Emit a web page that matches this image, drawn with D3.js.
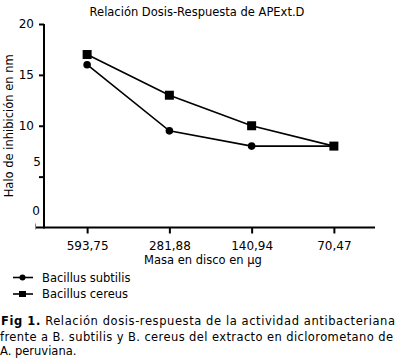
<!DOCTYPE html>
<html><head><meta charset="utf-8">
<script src="https://cdn.jsdelivr.net/npm/d3@7/dist/d3.min.js"></script>
<style>
body{margin:0;background:#fff;}
svg{display:block;font-family:"DejaVu Sans",Verdana,sans-serif;}
</style></head>
<body><svg id="c" width="396" height="362"></svg>
<script>
const categories = ["593,75","281,88","140,94","70,47"];
const subtilis = [16, 9.5, 8, 8];
const cereus = [17, 13, 10, 8];
const yTicks = [0,5,10,15,20];
const seriesNames = ["Bacillus subtilis","Bacillus cereus"];

const svg = d3.select("#c");
const x = d3.scalePoint().domain(categories).range([46,375]).padding(0.5);
const y = d3.scaleLinear().domain([0,20]).range([227.5,24]);

// title
svg.append("text").attr("x",197).attr("y",16).attr("text-anchor","middle")
  .attr("font-size",11.5).attr("fill","#000").text("Relación Dosis-Respuesta de APExt.D");

// y axis
const ya = svg.append("g").attr("transform","translate(44,0)")
  .call(d3.axisLeft(y).tickValues(yTicks).tickSize(5).tickPadding(5));
ya.select(".domain").remove();
ya.selectAll(".tick line").attr("stroke","#000").attr("stroke-width",2);
ya.selectAll(".tick text").attr("font-size",12).attr("font-family","DejaVu Sans")
  .attr("fill","#000");
ya.selectAll(".tick").filter(d=>d===0).select("line").remove();
// quirky offsets of low labels as in reference
ya.selectAll(".tick").filter(d=>d===5).select("text").attr("x",-3).attr("dy","-0.95em");
ya.selectAll(".tick").filter(d=>d===0).select("text").attr("x",-4).attr("dy","-1.05em");
svg.append("line").attr("x1",44).attr("x2",44).attr("y1",y(20)).attr("y2",y(0)+1)
  .attr("stroke","#000").attr("stroke-width",2);
svg.append("line").attr("x1",35.5).attr("x2",35.5).attr("y1",y(0)-4).attr("y2",y(0)+2)
  .attr("stroke","#888").attr("stroke-width",1);

// x axis
const xa = svg.append("g").attr("transform",`translate(0,${y(0)})`)
  .call(d3.axisBottom(x).tickSize(6).tickPadding(8));
xa.select(".domain").remove();
xa.selectAll(".tick line").attr("stroke","#000").attr("stroke-width",2);
xa.selectAll(".tick text").attr("font-size",12).attr("font-family","DejaVu Sans").attr("fill","#000");
svg.append("line").attr("x1",36).attr("x2",375).attr("y1",y(0)).attr("y2",y(0))
  .attr("stroke","#000").attr("stroke-width",2);

// axis titles
svg.append("text").attr("x",203).attr("y",264).attr("text-anchor","middle")
  .attr("font-size",11.5).attr("fill","#000").text("Masa en disco en µg");
svg.append("text").attr("transform",`translate(13,${(y(0)+y(20))/2}) rotate(-90)`)
  .attr("text-anchor","middle").attr("font-size",11.5).attr("fill","#000")
  .text("Halo de inhibición en nm");

// lines
const line = d3.line().x((d,i)=>x(categories[i])).y(d=>y(d));
[subtilis, cereus].forEach(s=>{
  svg.append("path").attr("d",line(s)).attr("fill","none").attr("stroke","#000").attr("stroke-width",1.6);
});
svg.selectAll(".pc").data(subtilis).enter().append("circle")
  .attr("cx",(d,i)=>x(categories[i])).attr("cy",d=>y(d)).attr("r",3.8).attr("fill","#000");
svg.selectAll(".ps").data(cereus).enter().append("rect")
  .attr("x",(d,i)=>x(categories[i])-4.5).attr("y",d=>y(d)-4.5).attr("width",9).attr("height",9).attr("fill","#000");

// legend
const leg = svg.append("g");
seriesNames.forEach((n,i)=>{
  const yy = 277.5 + i*16.5;
  leg.append("line").attr("x1",13).attr("x2",33).attr("y1",yy).attr("y2",yy).attr("stroke","#000").attr("stroke-width",1.6);
  if(i===0) leg.append("circle").attr("cx",22.5).attr("cy",yy).attr("r",3).attr("fill","#000");
  else leg.append("rect").attr("x",19).attr("y",yy-3).attr("width",7).attr("height",6).attr("fill","#000");
  leg.append("text").attr("x",42).attr("y",yy+4).attr("font-size",11.5).attr("fill","#000").text(n);
});

// caption
const cap = svg.append("g").attr("font-size",11.5).attr("fill","#000");
const t1 = cap.append("text").attr("x",1).attr("y",325).attr("textLength",394).attr("lengthAdjust","spacing");
t1.append("tspan").attr("font-weight","bold").text("Fig 1.");
t1.append("tspan").text(" Relación dosis-respuesta de la actividad antibacteriana");
cap.append("text").attr("x",0).attr("y",340.5).attr("textLength",393).attr("lengthAdjust","spacing")
  .text("frente a B. subtilis y B. cereus del extracto en diclorometano de");
cap.append("text").attr("x",0).attr("y",355).text("A. peruviana.");
</script></body></html>
